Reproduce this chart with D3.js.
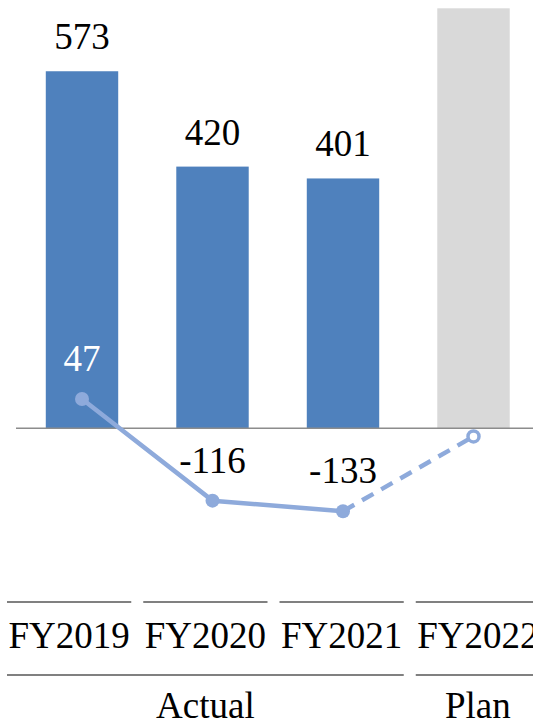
<!DOCTYPE html>
<html>
<head>
<meta charset="utf-8">
<script src="https://cdn.jsdelivr.net/npm/d3@7"></script>
<style>
  html, body { margin: 0; padding: 0; background: #fff; }
  svg { display: block; }
  text { font-family: "Liberation Serif", "Times New Roman", serif; }
</style>
</head>
<body>
<svg id="chart" width="533" height="723"></svg>
<script>
// ---- data ----
const categories = ["FY2019", "FY2020", "FY2021", "FY2022"];
const barValues = [573, 420, 401, 674];
const barIsPlan = [false, false, false, true];
const lineValues = [47, -116, -133, -13];
const lineIsPlan = [false, false, false, true];
const groups = [
  { label: "Actual", from: 0, to: 2 },
  { label: "Plan", from: 3, to: 3 }
];

// ---- layout ----
const W = 533, H = 723;
const svg = d3.select("#chart");

const x = d3.scaleBand()
  .domain(categories)
  .range([16.75, 538.75])
  .paddingInner(0.445)
  .paddingOuter(0.2225);

const y = d3.scaleLinear()
  .domain([-200, 700])
  .range([553, -7.9]);

const tableX = d3.scaleBand()
  .domain(categories)
  .range([1, 546]);

const barColor = "#4f81bd";
const planColor = "#d9d9d9";
const lineColor = "#8eaadb";
const fontSize = 37;
const fmt = v => String(v);

// bars
const barData = categories.map((c, i) => ({ c, v: barValues[i], plan: barIsPlan[i] }));
svg.append("g").selectAll("rect")
  .data(barData)
  .join("rect")
  .attr("x", d => x(d.c))
  .attr("width", x.bandwidth())
  .attr("y", d => y(Math.max(0, d.v)))
  .attr("height", d => Math.abs(y(d.v) - y(0)))
  .attr("fill", d => d.plan ? planColor : barColor);

// bar labels (actual only; plan label falls outside view)
svg.append("g").selectAll("text")
  .data(barData.filter(d => !d.plan))
  .join("text")
  .attr("x", d => x(d.c) + x.bandwidth() / 2)
  .attr("y", d => y(d.v) - 22)
  .attr("text-anchor", "middle")
  .attr("font-size", fontSize)
  .attr("fill", "#000")
  .text(d => fmt(d.v));

// baseline
svg.append("line")
  .attr("x1", x.range()[0] - 0.75).attr("x2", W)
  .attr("y1", y(0)).attr("y2", y(0))
  .attr("stroke", "#8c8c8c").attr("stroke-width", 1.5);

// line series
const pts = categories.map((c, i) => ({
  c, v: lineValues[i], plan: lineIsPlan[i],
  px: x(c) + x.bandwidth() / 2, py: y(lineValues[i])
}));
const lineGen = d3.line().x(d => d.px).y(d => d.py);
const actualPts = pts.filter(d => !d.plan);
const lastActual = actualPts[actualPts.length - 1];
const planPts = [lastActual].concat(pts.filter(d => d.plan));

svg.append("path")
  .datum(actualPts)
  .attr("d", lineGen)
  .attr("fill", "none")
  .attr("stroke", lineColor)
  .attr("stroke-width", 4.5)
  .attr("stroke-linejoin", "round");

svg.append("path")
  .datum(planPts)
  .attr("d", lineGen)
  .attr("fill", "none")
  .attr("stroke", lineColor)
  .attr("stroke-width", 4.5)
  .attr("stroke-dasharray", "13,9");

svg.append("g").selectAll("circle")
  .data(pts)
  .join("circle")
  .attr("cx", d => d.px)
  .attr("cy", d => d.py)
  .attr("r", d => d.plan ? 5.5 : 7)
  .attr("fill", d => d.plan ? "#fff" : lineColor)
  .attr("stroke", lineColor)
  .attr("stroke-width", d => d.plan ? 3.5 : 0);

// line labels
svg.append("g").selectAll("text")
  .data(pts.filter(d => !d.plan))
  .join("text")
  .attr("x", d => d.px)
  .attr("y", d => d.py - 28)
  .attr("text-anchor", "middle")
  .attr("font-size", fontSize)
  .attr("fill", d => d.v > 0 ? "#fff" : "#000")
  .text(d => fmt(d.v));

// category table
const inset = 6;
const tg = svg.append("g");
tg.selectAll("line.sep")
  .data(categories)
  .join("line")
  .attr("class", "sep")
  .attr("x1", c => tableX(c) + inset)
  .attr("x2", c => tableX(c) + tableX.bandwidth() - inset)
  .attr("y1", 602).attr("y2", 602)
  .attr("stroke", "#808080").attr("stroke-width", 2);

tg.selectAll("text.cat")
  .data(categories)
  .join("text")
  .attr("class", "cat")
  .attr("x", c => tableX(c) + tableX.bandwidth() / 2)
  .attr("y", 648)
  .attr("text-anchor", "middle")
  .attr("font-size", fontSize)
  .attr("fill", "#000")
  .text(c => c);

tg.selectAll("line.grp")
  .data(groups)
  .join("line")
  .attr("class", "grp")
  .attr("x1", g => tableX(categories[g.from]) + inset)
  .attr("x2", g => tableX(categories[g.to]) + tableX.bandwidth() - inset)
  .attr("y1", 675).attr("y2", 675)
  .attr("stroke", "#808080").attr("stroke-width", 2);

tg.selectAll("text.grp")
  .data(groups)
  .join("text")
  .attr("class", "grp")
  .attr("x", g => (tableX(categories[g.from]) + tableX(categories[g.to]) + tableX.bandwidth()) / 2)
  .attr("y", 718)
  .attr("text-anchor", "middle")
  .attr("font-size", fontSize)
  .attr("fill", "#000")
  .text(g => g.label);
</script>
</body>
</html>
